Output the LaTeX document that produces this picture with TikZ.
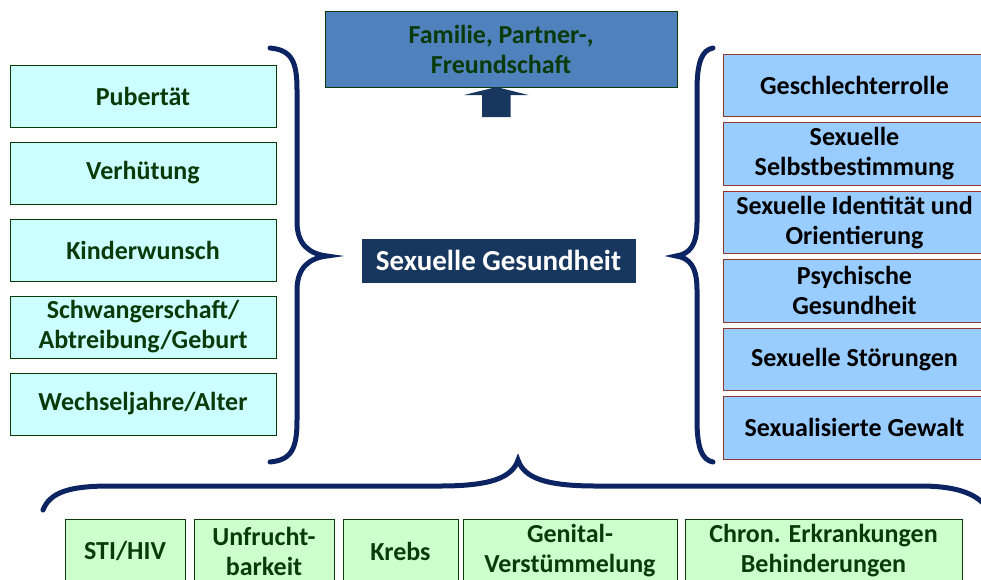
\documentclass[tikz,border=0pt]{standalone}
\usepackage{fontspec}
\setmainfont{Carlito}
\usetikzlibrary{positioning}
\definecolor{bracecol}{HTML}{0C2461}
\definecolor{greentext}{HTML}{0A3A0A}
\definecolor{coreblue}{HTML}{17375E}
\tikzset{box/.style={draw,rectangle,inner sep=2pt,outer sep=0pt,align=center,line width=1pt,
                     font=\fontsize{26}{30}\selectfont\bfseries},
         left box/.style={box,fill={rgb,255:red,204;green,255;blue,255},draw=greentext,text=greentext,minimum width=266pt,minimum height=62pt},
         right box/.style={box,fill={rgb,255:red,153;green,204;blue,255},draw={rgb,255:red,148;green,54;blue,52},
                     text=black,minimum width=263pt,minimum height=62.5pt},
         bottom box/.style={box,fill={rgb,255:red,204;green,255;blue,204},draw=greentext,text=greentext,minimum height=64pt},
         brace line/.style={draw=bracecol,line width=5pt,line cap=round},
}
\begin{document}
\begin{tikzpicture}[x=1pt,y=-1pt]
				\useasboundingbox (0,0) rectangle (981,579);
				% left column
				\node[left box] (pub) at (143,96) {Pubertät};
				\node[left box] (ver) [below=15pt of pub] {Verhütung};
				\node[left box] (kind) [below=15pt of ver] {Kinderwunsch};
				\node[left box] (schw) [below=15pt of kind] {Schwangerschaft/\\Abtreibung/Geburt};
				\node[left box] (alt) [below=15pt of schw] {Wechseljahre/Alter};
				
				% right column
				\node[right box] (rolle) at (854.5,85.25) {Geschlechterrolle};
				\node[right box] (selbst) [below=6pt of rolle] {Sexuelle\\Selbstbestimmung};
				\node[right box] (ident) [below=6pt of selbst] {Sexuelle Identität und\\Orientierung};
				\node[right box] (psych) [below=6pt of ident] {Psychische\\Gesundheit};
				\node[right box] (stoer) [below=6pt of psych] {Sexuelle Störungen};
				\node[right box] (gew) [below=6pt of stoer] {Sexualisierte Gewalt};
				
				% bottom row
				\node[bottom box,minimum width=120pt] (sti) at (125,551) {STI/HIV};
				\node[bottom box,minimum width=140pt] (unfr) [right=9pt of sti] {Unfrucht-\\barkeit};
				\node[bottom box,minimum width=115pt] (krebs) [right=9pt of unfr] {Krebs};
				\node[bottom box,minimum width=214pt] (genital) [right=5pt of krebs] {Genital-\\Verstümmelung};
				\node[bottom box,minimum width=277pt] (chron) [right=8pt of genital] {Chron. Erkrankungen\\Behinderungen};
				
				% centre
				\node[box,fill={rgb,255:red,79;green,129;blue,189},draw=greentext,text=greentext,
				      minimum width=352pt,minimum height=76pt] (fam) at (501,49) {Familie, Partner-,\\Freundschaft};
				\node[box,fill=coreblue,draw=coreblue,text=white,font=\fontsize{29}{32}\selectfont\bfseries,
				      minimum width=273pt,minimum height=43pt] (core) at (498.5,260.5) {Sexuelle Gesundheit};
				
				\coordinate (tip) at (496.5,87);
				\fill[coreblue] ([shift={(-14.5,30)}]tip) -- ++(0,-22) -- ++(-18,0) -- (tip) -- ++(32,8) -- ++(-18,0) -- ++(0,22) -- cycle;
				
				% braces
				\draw[brace line] (270,48) .. controls (292,50) and (297,62) .. (297,90) -- (297,222)
				      .. controls (297,245) and (310,254) .. (327,256) .. controls (310,258) and (297,267) .. (297,290)
				      -- (297,420) .. controls (297,448) and (292,460) .. (270,462);
				\draw[brace line] (713,48) .. controls (702,50) and (697,62) .. (697,90) -- (697,222)
				      .. controls (697,245) and (690,254) .. (676,256) .. controls (690,258) and (697,267) .. (697,290)
				      -- (697,420) .. controls (697,448) and (702,460) .. (713,462);
				\draw[brace line] (43,510) .. controls (50,492) and (70,486) .. (110,486) -- (440,486)
				      .. controls (490,486) and (512,478) .. (518,460) .. controls (524,478) and (546,486) .. (596,486)
				      -- (920,486) .. controls (960,486) and (980,495) .. (990,512);
			\end{tikzpicture}
\end{document}
